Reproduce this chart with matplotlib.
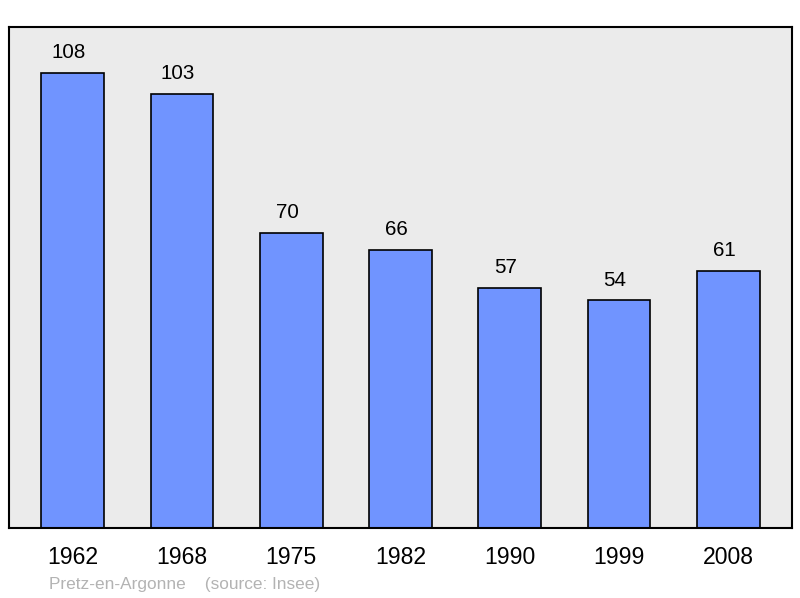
import matplotlib.pyplot as plt

plt.rcParams['font.family'] = ['Liberation Sans', 'DejaVu Sans']

years = ['1962', '1968', '1975', '1982', '1990', '1999', '2008']
population = [108, 103, 70, 66, 57, 54, 61]

fig = plt.figure(figsize=(8, 5.98), dpi=100)
ax = fig.add_axes([9 / 800, 1 - 528 / 598, 783 / 800, 501 / 598])
ax.set_facecolor('#ebebeb')

x = range(len(years))
ax.bar(x, population, width=0.575, color='#7094ff', edgecolor='black', linewidth=1.2, zorder=2)
for xi, v in zip(x, population):
    ax.annotate(str(v), (xi, v), xytext=(-2.9, 14.6), textcoords='offset points',
                ha='center', va='center', fontsize=14.8)

ax.set_xlim(-0.584, 6.584)
ax.set_ylim(0, 118.9)
ax.set_xticks(list(x))
ax.set_xticklabels(years, fontsize=16.6)
ax.tick_params(axis='x', length=0, pad=13)
ax.set_yticks([])
for s in ax.spines.values():
    s.set_linewidth(1.5)

fig.text(49 / 800, 1 - 584 / 598, 'Pretz-en-Argonne    (source: Insee)',
         fontsize=12.4, color='#b3b3b3', va='center', ha='left')

plt.savefig('out.png', dpi=100)
